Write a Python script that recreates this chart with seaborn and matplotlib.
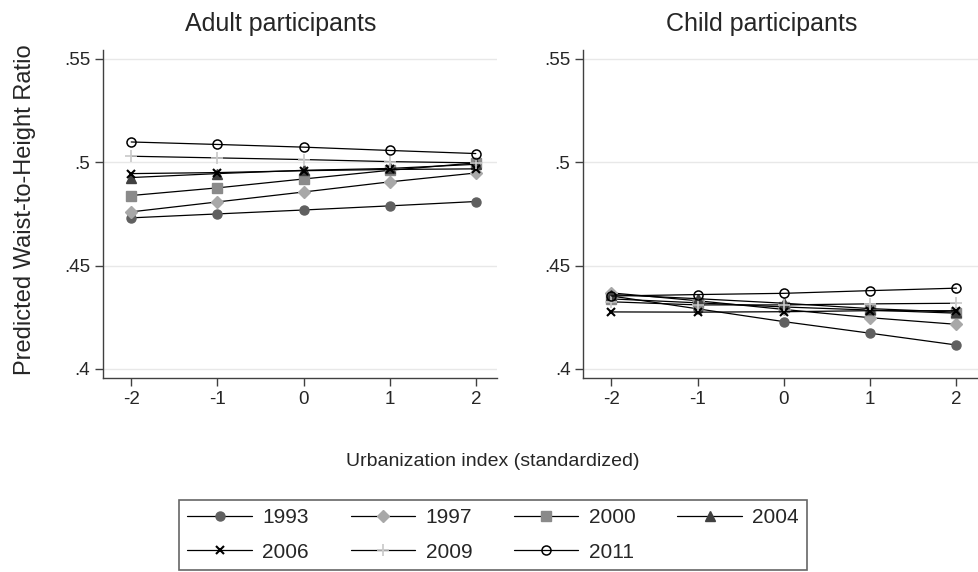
import matplotlib
matplotlib.use("Agg")
import matplotlib.pyplot as plt
import seaborn as sns
import pandas as pd
from matplotlib.ticker import FuncFormatter

sns.set_theme(style="white")
plt.rcParams['font.family'] = ['Liberation Sans', 'DejaVu Sans']

urban = [-2, -1, 0, 1, 2]
years = ["1993", "1997", "2000", "2004", "2006", "2009", "2011"]

adult_1993 = [0.4731, 0.4750, 0.4769, 0.4789, 0.4810]
adult_1997 = [0.4760, 0.4808, 0.4856, 0.4905, 0.4948]
adult_2000 = [0.4839, 0.4876, 0.4919, 0.4961, 0.4997]
adult_2004 = [0.4926, 0.4945, 0.4961, 0.4970, 0.4990]
adult_2006 = [0.4945, 0.4950, 0.4959, 0.4965, 0.4968]
adult_2009 = [0.5029, 0.5021, 0.5013, 0.5003, 0.4997]
adult_2011 = [0.5098, 0.5086, 0.5073, 0.5057, 0.5042]

child_1993 = [0.4353, 0.4291, 0.4229, 0.4173, 0.4116]
child_1997 = [0.4368, 0.4330, 0.4288, 0.4248, 0.4216]
child_2000 = [0.4339, 0.4320, 0.4300, 0.4285, 0.4270]
child_2004 = [0.4360, 0.4340, 0.4318, 0.4292, 0.4275]
child_2006 = [0.4276, 0.4275, 0.4277, 0.4282, 0.4282]
child_2009 = [0.4325, 0.4310, 0.4310, 0.4315, 0.4318]
child_2011 = [0.4353, 0.4360, 0.4366, 0.4379, 0.4391]

adult = dict(zip(years, [adult_1993, adult_1997, adult_2000, adult_2004,
                         adult_2006, adult_2009, adult_2011]))
child = dict(zip(years, [child_1993, child_1997, child_2000, child_2004,
                         child_2006, child_2009, child_2011]))

styles = {
    "1993": dict(marker="o", mfc="#606060", mec="#606060", ms=6.5, mew=1),
    "1997": dict(marker="D", mfc="#a8a8a8", mec="#a8a8a8", ms=6.5, mew=1),
    "2000": dict(marker="s", mfc="#8a8a8a", mec="#8a8a8a", ms=6.5, mew=1),
    "2004": dict(marker="^", mfc="#404040", mec="#404040", ms=7, mew=1),
    "2006": dict(marker="x", mfc="black", mec="black", ms=6, mew=1.5),
    "2009": dict(marker="+", mfc="#c8c8c8", mec="#c8c8c8", ms=8, mew=1.2),
    "2011": dict(marker="o", mfc="none", mec="black", ms=6.5, mew=1.1),
}

fig = plt.figure(figsize=(9.79, 5.72), dpi=100)
ax1 = fig.add_axes([0.105, 0.339, 0.403, 0.574])
ax2 = fig.add_axes([0.5955, 0.339, 0.4035, 0.574])

handles = {}
for ax, data, title in [(ax1, adult, "Adult participants"), (ax2, child, "Child participants")]:
    for y in years:
        df = pd.DataFrame({"x": urban, "v": data[y]})
        st = styles[y]
        sns.lineplot(data=df, x="x", y="v", ax=ax, color="black", linewidth=0.9,
                     marker=st["marker"], markerfacecolor=st["mfc"],
                     markeredgecolor=st["mec"], markersize=st["ms"],
                     markeredgewidth=st["mew"], label=y, legend=False)
        handles[y] = ax.lines[-1]
    ax.set_xlim(-2.33, 2.25)
    ax.set_ylim(0.3956, 0.5544)
    ax.set_yticks([0.4, 0.45, 0.5, 0.55])
    ax.yaxis.set_major_formatter(FuncFormatter(lambda v, p: ("%g" % round(v, 2)).lstrip("0")))
    ax.set_xticks(urban)
    ax.set_xticklabels([str(u) for u in urban])
    ax.grid(axis="y", color="#e8e8e8", linewidth=1)
    ax.grid(axis="x", visible=False)
    for s in ["top", "right"]:
        ax.spines[s].set_visible(False)
    for s in ["left", "bottom"]:
        ax.spines[s].set_color("#404040")
        ax.spines[s].set_linewidth(1)
    ax.tick_params(axis="both", which="major", direction="out", length=5.5, width=1,
                   color="#404040", labelsize=13.5, left=True, bottom=True, pad=3.5)
    ax.set_xlabel("")
    ax.set_ylabel("")
    ax.set_title(title, fontsize=18, pad=13.5, x=0.452)

fig.text(25 / 979, 1 - 210 / 572, "Predicted Waist-to-Height Ratio", rotation=90,
         ha="center", va="center", fontsize=17)
fig.text(0.503, 1 - 462 / 572, "Urbanization index (standardized)", ha="center",
         va="center", fontsize=14)

order = ["1993", "2006", "1997", "2009", "2000", "2011", "2004"]
leg = fig.legend([handles[y] for y in order], order, ncol=4, loc="lower center",
                 bbox_to_anchor=(0.5036, 2 / 572), borderaxespad=0, fontsize=15,
                 frameon=True, fancybox=False, handlelength=3.1, handletextpad=0.5,
                 columnspacing=2.0, labelspacing=0.75, borderpad=0.4)
leg.get_frame().set_edgecolor("#404040")
leg.get_frame().set_linewidth(1.2)

fig.savefig("out.png", dpi=100)
